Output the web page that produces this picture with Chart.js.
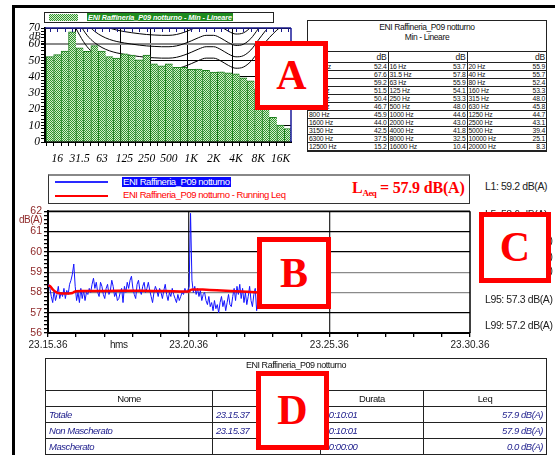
<!DOCTYPE html>
<html>
<head>
<meta charset="utf-8">
<script src="https://cdn.jsdelivr.net/npm/chart.js@4.4.1/dist/chart.umd.min.js"></script>
<style>
  body { margin:0; width:555px; height:455px; overflow:hidden; background:#fff; position:relative;
         font-family:"Liberation Sans", Arial, sans-serif; color:#111; }
  .abs { position:absolute; }
  #frame { left:12px; top:5px; width:543px; height:450px; border-left:3px solid #000; border-top:3px solid #000; box-sizing:border-box; }
  canvas { display:block; }
  .tA { border-collapse:collapse; table-layout:fixed; font-size:6.8px; letter-spacing:-0.2px; }
  .tA td { padding:0 1px; height:7px; line-height:7px; border-bottom:1px solid #222; white-space:nowrap; overflow:hidden; }
  .tA td.v { text-align:right; border-right:1px solid #222; }
  .tA td.v:last-child { border-right:none; }
  .tD { border-collapse:collapse; table-layout:fixed; font-size:9.5px; letter-spacing:-0.45px; width:501px; }
  .tD td { border:1px solid #222; padding:0 3px; white-space:nowrap; overflow:hidden; }
  .tD td.b { font-style:italic; color:#23238f; height:15px; }
  .stat { font-size:10.5px; letter-spacing:-0.4px; color:#222; white-space:nowrap; }
  .mark { box-sizing:border-box; border:5px solid #f00; background:#fff; color:#f00;
          font:bold 42px "Liberation Serif", "Times New Roman", serif; text-align:center; }
</style>
</head>
<body>
<div class="abs" id="frame"></div>

<!-- spectrum chart -->
<div class="abs" style="left:44px;top:12px;width:228px;height:9px;border:1px solid #222;"></div>
<div class="abs" id="swatch" style="left:49px;top:13.5px;width:29px;height:7px;"></div>
<div class="abs" style="left:87px;top:13px;height:8px;line-height:8px;padding:0 1px;background:#1e8a1e;color:#fff;font:italic bold 7.3px 'Liberation Sans',Arial,sans-serif;letter-spacing:-0.1px;white-space:nowrap;">ENI Raffineria_P09 notturno - Min - Lineare</div>
<div class="abs" style="left:0;top:0;width:300px;height:172px;"><canvas id="barChart" width="300" height="172"></canvas></div>
<div class="abs" style="left:29px;top:30px;font:italic 10.5px 'Liberation Serif',serif;">dB</div>

<!-- spectrum table -->
<div class="abs" id="tableA" style="left:307px;top:20px;width:238px;border:1px solid #222;background:#fff;">
  <div style="height:31px;text-align:center;font-size:8.5px;letter-spacing:-0.4px;line-height:10px;padding-top:1px;box-sizing:border-box;border-bottom:1px solid #222;">
    <div id="tATitle1"></div><div id="tATitle2"></div>
  </div>
  <table class="tA" id="tA" style="width:238px;"></table>
</div>

<!-- time history legend -->
<div class="abs" style="left:48px;top:174px;width:420px;height:27px;border:1px solid #333;border-top:2px solid #888;"></div>
<div class="abs" style="left:55px;top:181px;width:53px;height:1.5px;background:#2a2aff;"></div>
<div class="abs" id="legBlue" style="left:122px;top:176.5px;height:10px;line-height:10px;padding:0 1px;background:#0a0aff;color:#fff;font-size:9.5px;letter-spacing:-0.45px;white-space:nowrap;"></div>
<div class="abs" style="left:55px;top:195px;width:53px;height:1.8px;background:#f00;"></div>
<div class="abs" id="legRed" style="left:123px;top:190px;line-height:10px;color:#f00;font-size:9.5px;letter-spacing:-0.45px;white-space:nowrap;"></div>
<div class="abs" style="left:352px;top:179px;color:#f00;font:bold 16px 'Liberation Serif',serif;white-space:nowrap;letter-spacing:-0.2px;">L<span style="font-size:9px;position:relative;top:3px;letter-spacing:-0.6px;">Aeq</span> = <span id="laeq"></span> dB(A)</div>

<!-- time history chart -->
<div class="abs" style="left:0;top:203px;width:500px;height:152px;"><canvas id="timeChart" width="500" height="152"></canvas></div>
<div class="abs" style="left:19px;top:214px;font-size:10px;letter-spacing:-0.5px;color:#8f2a2a;">dB(A)</div>
<div class="abs" style="left:110px;top:339px;font-size:10px;letter-spacing:-0.5px;color:#222;">hms</div>

<div id="stats"></div>

<!-- summary table -->
<div class="abs" style="left:45px;top:358px;">
  <table class="tD" id="tD"></table>
</div>

<!-- labels -->
<div class="abs mark" style="left:255px;top:41px;width:73px;height:69px;line-height:59px;">A</div>
<div class="abs mark" style="left:257px;top:237px;width:74px;height:72px;line-height:62px;">B</div>
<div class="abs mark" style="left:479px;top:212px;width:72px;height:71px;line-height:61px;">C</div>
<div class="abs mark" style="left:256px;top:371px;width:73px;height:79px;line-height:69px;">D</div>

<script>
// ---- spectrum (third-octave, Min - Lineare) ----
const bandLabels = ['12.5','16','20','25','31.5','40','50','63','80','100','125','160','200','250','315','400',
  '500','630','800','1000','1250','1600','2000','2500','3150','4000','5000','6300','8000','10000','12500','16000','20000'];
const minLevels = [52.4,53.7,55.9,67.6,57.8,55.7,59.2,55.9,52.4,51.5,54.1,53.3,50.4,53.3,48.0,46.7,
  48.0,45.8,45.9,44.6,44.7,44.0,43.0,43.1,42.5,41.8,39.4,37.5,32.5,25.1,15.2,10.4,8.3];
const octaveIdx = [1,4,7,10,13,16,19,22,25,28,31];
const octaveText = ['16','31.5','63','125','250','500','1K','2K','4K','8K','16K'];
const specDbTicks = [0,10,20,30,40,50,60,70];
const specGridIdx = [4,10,14,19,25];
// reference contour curves drawn behind the spectrum (dB per band)
const contour1 = [111.5,101.5,91.5,81.5,72.5,65.5,61.0,58.0,56.0,54.7,53.8,53.1,52.5,52.0,51.7,51.5,51.5,52.0,53.3,55.1,57.1,58.5,58.5,56.7,54.0,52.3,53.0,56.5,62.5,68.5,73.5,77.5,79.5];
const contour2 = [118.5,108.5,98.5,88.5,79.5,72.5,68.0,65.0,63.0,61.7,60.8,60.1,59.5,59.0,58.7,58.5,58.5,59.0,60.3,62.1,64.1,65.5,65.5,63.7,61.0,59.3,60.0,63.5,69.5,75.5,80.5,84.5,86.5];
const contour3 = [125.5,115.5,105.5,95.5,86.5,79.5,75.0,72.0,70.0,68.7,67.8,67.1,66.5,66.0,65.7,65.5,65.5,66.0,67.3,69.1,71.1,72.5,72.5,70.7,68.0,66.3,67.0,70.5,76.5,82.5,87.5,91.5,93.5];
const contour4 = [104.5,94.5,84.5,74.5,65.5,58.5,54.0,51.0,49.0,47.7,46.8,46.1,45.5,45.0,44.7,44.5,44.5,45.0,46.3,48.1,50.1,51.5,51.5,49.7,47.0,45.3,46.0,49.5,55.5,61.5,66.5,70.5,72.5];

// ---- time history ----
const seriesName = 'ENI Raffineria_P09 notturno';
const blueStartSec = 1, blueStepSec = 3;
const blueLevels = [
  58.4,58.2,57.8,57.5,58.1,57.6,57.9,58.3,57.7,58.0,
  57.8,58.2,57.7,58.1,57.9,58.4,58.6,58.9,59.4,58.3,
  57.6,58.0,57.5,58.2,57.7,58.1,57.6,58.0,57.9,58.2,
  58.0,58.4,58.7,58.2,58.5,58.0,57.8,58.5,58.3,57.9,
  57.7,58.2,58.4,57.9,58.1,58.6,58.3,57.8,58.0,57.6,
  57.7,58.0,58.2,57.5,58.3,58.0,58.5,58.2,58.6,58.8,
  58.2,57.9,57.7,58.4,58.6,58.1,57.9,58.3,58.5,58.0,
  58.2,58.5,58.1,57.8,57.5,58.0,58.3,58.1,57.8,58.2,
  58.0,57.7,58.1,58.4,57.9,57.6,58.0,57.8,58.2,57.9,
  57.7,57.5,57.9,57.6,57.8,58.0,57.9,58.2,58.0,58.1,
  58.3,61.9,58.6,58.0,58.3,57.9,58.2,57.8,58.1,57.6,
  57.9,58.0,57.6,57.4,57.8,57.3,57.5,57.1,57.6,57.2,
  57.4,57.0,57.5,57.8,57.3,57.6,57.1,57.5,57.9,57.4,
  57.3,57.8,58.2,57.6,58.3,57.9,58.4,57.7,58.2,57.5,
  58.0,57.4,57.8,58.3,57.6,57.3,57.9,58.2,57.1,57.6,
  57.8,58.1,57.7,57.9,57.5,58.0,58.2,57.6,57.8,57.4,
  57.9,58.1,57.7,57.5,57.9,58.3,57.8,57.6,58.0,57.7,
  57.9,57.4,57.8,58.1,57.6,57.9,57.5,57.8,58.0,57.7,
  57.6,57.9,58.2,57.8,57.5,57.9,57.7,58.0,57.6,57.8,
  57.9,57.5,57.7,58.0,57.8,57.6,57.9,57.7,57.8,57.6,
  57.8];
const leqTimes  = [1,5,10,15,20,30,45,52,56,60,70,100,150,200,250,300,303,306,312,330,360,400,450,500,550,601];
const leqLevels = [58.35,58.3,58.15,58.05,57.98,57.95,57.95,57.97,58.03,58.06,58.07,58.07,58.08,58.08,58.07,58.05,
  58.1,58.14,58.15,58.14,58.11,58.06,58.0,57.96,57.92,57.9];
const laeq = 57.9;
const timeTickSecs = [0,60,120,180,240,300,360,420,480,540,600,660,720,780,840,900];
const timeLabelSecs = [0,300,600,900];
const timeLabelText = ['23.15.36','23.20.36','23.25.36','23.30.36'];
const dbaTicks = [56,57,58,59,60,61,62];
const dbaGridColor = ['#000','#000','#8a8a8a','#8a8a8a','#000','#000','#000'];

const statNames  = ['L1','L5','L10','L50','L90','L95','L99'];
const statValues = [59.2,58.6,58.4,57.9,57.5,57.3,57.2];

// ---- summary table ----
const sumHeaders = ['Nome','Inizio','Durata','Leq'];
const sumNames = ['Totale','Non Mascherato','Mascherato'];
const sumStart = ['23.15.37','23.15.37',''];
const sumDur   = ['00:10:01','00:10:01','00:00:00'];
const sumLeq   = [57.9,57.9,0.0];

// ---------------------------------------------------------------
const serif = "'Liberation Serif','Times New Roman',serif";
const sans = "'Liberation Sans',Arial,sans-serif";

// hatched green fill for the bars
const pc = document.createElement('canvas'); pc.width = 2; pc.height = 2;
const px = pc.getContext('2d');
px.fillStyle = '#d4eecb'; px.fillRect(0, 0, 2, 2);
px.fillStyle = '#2f942f'; px.fillRect(0, 0, 1, 1); px.fillRect(1, 1, 1, 1);
const hatch = px.createPattern(pc, 'repeat');
document.getElementById('swatch').style.background = 'repeating-conic-gradient(#2f942f 0 25%, #d4eecb 0 50%) 0 0/2px 2px';

// frame lines round the plot area (and optional tick row along the top)
const plotFrame = {
  id: 'plotFrame',
  afterDatasetsDraw(chart, args, opts) {
    const a = chart.chartArea, c = chart.ctx;
    c.save();
    c.lineWidth = opts.width || 1.5;
    c.strokeStyle = opts.top;
    c.beginPath(); c.moveTo(a.left, a.top); c.lineTo(a.right, a.top); c.stroke();
    if (opts.topTicks) {
      c.lineWidth = 1;
      chart.scales.x.ticks.forEach(t => {
        const x = Math.round(chart.scales.x.getPixelForValue(t.value)) + 0.5;
        c.beginPath(); c.moveTo(x, a.top); c.lineTo(x, a.top + 4); c.stroke();
      });
    }
    c.lineWidth = opts.width || 1.5;
    c.strokeStyle = opts.right;
    c.beginPath(); c.moveTo(a.right, a.top); c.lineTo(a.right, a.bottom); c.stroke();
    c.restore();
  }
};

const contours = [contour1, contour2, contour3, contour4];
new Chart(document.getElementById('barChart'), {
  type: 'bar',
  data: {
    datasets: [
      {
        type: 'bar', label: 'Min - Lineare',
        data: minLevels.map((v, i) => ({x: i, y: v})),
        backgroundColor: hatch, borderColor: '#1b7d1b',
        borderWidth: {top: 1, left: 1, right: 0, bottom: 0}, borderSkipped: false,
        barPercentage: 1, categoryPercentage: 1, order: 1
      },
      ...contours.map(c => ({
        type: 'line', data: c.map((v, i) => ({x: i, y: v})),
        borderColor: '#000', borderWidth: 1, pointRadius: 0,
        cubicInterpolationMode: 'monotone', order: 2
      }))
    ]
  },
  options: {
    responsive: false, animation: false, devicePixelRatio: 1,
    layout: {padding: {left: 0, top: 28, right: 9, bottom: 0}},
    plugins: {legend: {display: false}, tooltip: {enabled: false},
      plotFrame: {top: '#1a1a8a', right: '#1a1a9a', width: 1.5, topTicks: true}},
    scales: {
      x: {
        type: 'linear', min: -0.16, max: 31.9,
        afterBuildTicks: s => { s.ticks = bandLabels.map((b, i) => ({value: i})); },
        afterFit: s => { s.height = 30; },
        ticks: {autoSkip: false, maxRotation: 0, padding: 6, color: '#000',
          font: {family: serif, style: 'italic', size: 11.5},
          callback: v => { const k = octaveIdx.indexOf(v); return k < 0 ? '' : octaveText[k]; }},
        grid: {drawOnChartArea: true, tickLength: 4, tickColor: '#000',
          color: c => specGridIdx.includes(c.tick && c.tick.value) ? '#000' : 'rgba(0,0,0,0)'},
        border: {display: true, color: '#000', width: 2}
      },
      y: {
        min: 0, max: 70,
        afterBuildTicks: s => { const t = []; for (let v = 0; v <= 70; v += 2) t.push({value: v}); s.ticks = t; },
        afterFit: s => { s.width = 45; },
        ticks: {autoSkip: false, padding: 1, color: '#000',
          font: {family: serif, style: 'italic', size: 11.5},
          callback: v => specDbTicks.includes(v) ? String(v) : ''},
        grid: {tickLength: 4, tickColor: '#000',
          color: c => { const v = c.tick && c.tick.value; return v === 60 ? '#8a8a8a' : (specDbTicks.includes(v) ? '#000' : 'rgba(0,0,0,0)'); },
          lineWidth: c => (c.tick && c.tick.value === 60) ? 2 : 1},
        border: {display: true, color: '#000', width: 2}
      }
    }
  },
  plugins: [plotFrame]
});

// spectrum table
document.getElementById('tATitle1').textContent = seriesName;
document.getElementById('tATitle2').textContent = 'Min - Lineare';
let tA = '<colgroup><col style="width:38px"><col style="width:42px"><col style="width:38px"><col style="width:41px"><col style="width:38px"><col style="width:41px"></colgroup>';
tA += '<tr><td></td><td class="v" style="font-size:8.5px;height:10px">dB</td><td></td><td class="v" style="font-size:8.5px">dB</td><td></td><td class="v" style="font-size:8.5px">dB</td></tr>';
for (let r = 0; r < 11; r++) {
  tA += '<tr>';
  for (let c = 0; c < 3; c++) {
    const i = r * 3 + c;
    tA += '<td>' + bandLabels[i] + ' Hz</td><td class="v">' + minLevels[i].toFixed(1) + '</td>';
  }
  tA += '</tr>';
}
document.getElementById('tA').innerHTML = tA;

// time history legend
document.getElementById('legBlue').textContent = seriesName;
document.getElementById('legRed').textContent = seriesName + ' - Running Leq';
document.getElementById('laeq').textContent = laeq.toFixed(1);

new Chart(document.getElementById('timeChart'), {
  type: 'line',
  data: {
    datasets: [
      {label: seriesName, data: blueLevels.map((v, i) => ({x: blueStartSec + i * blueStepSec, y: v})),
        borderColor: '#1414ff', borderWidth: 1, pointRadius: 0, tension: 0, order: 2},
      {label: seriesName + ' - Running Leq', data: leqLevels.map((v, i) => ({x: leqTimes[i], y: v})),
        borderColor: '#ff0000', borderWidth: 2.5, pointRadius: 0, tension: 0.3, order: 1}
    ]
  },
  options: {
    responsive: false, animation: false, devicePixelRatio: 1,
    layout: {padding: {left: 0, top: 6, right: 30, bottom: 0}},
    plugins: {legend: {display: false}, tooltip: {enabled: false},
      plotFrame: {top: '#000', right: '#000', width: 1.5}},
    scales: {
      x: {
        type: 'linear', min: 0, max: 900,
        afterBuildTicks: s => { s.ticks = timeTickSecs.map(v => ({value: v})); },
        afterFit: s => { s.height = 22; },
        ticks: {autoSkip: false, maxRotation: 0, padding: 2, color: '#222',
          font: {family: sans, size: 10},
          callback: v => { const k = timeLabelSecs.indexOf(v); return k < 0 ? '' : timeLabelText[k]; }},
        grid: {tickLength: 4, tickColor: '#000',
          color: c => { const v = c.tick && c.tick.value; return (v === 300 || v === 600) ? '#333' : 'rgba(0,0,0,0)'; },
          lineWidth: 1.3},
        border: {display: true, color: '#000', width: 2}
      },
      y: {
        min: 56, max: 62,
        afterBuildTicks: s => { const t = []; for (let k = 0; k <= 30; k++) t.push({value: 56 + k / 5}); s.ticks = t; },
        afterFit: s => { s.width = 48; },
        ticks: {autoSkip: false, padding: 2, color: '#8f2a2a', font: {family: sans, size: 10.5},
          callback: v => { const k = dbaTicks.findIndex(d => Math.abs(d - v) < 1e-6); return k < 0 ? '' : String(dbaTicks[k]); }},
        grid: {tickLength: 4, tickColor: '#000', lineWidth: 1.3,
          color: c => { const v = c.tick ? c.tick.value : 0; const k = dbaTicks.findIndex(d => Math.abs(d - v) < 1e-6); return k < 0 ? 'rgba(0,0,0,0)' : dbaGridColor[k]; }},
        border: {display: true, color: '#000', width: 2}
      }
    }
  },
  plugins: [plotFrame]
});

// percentile levels
const statTops = [180, 208, 234, 250, 264, 293, 319];
document.getElementById('stats').innerHTML = statNames.map((n, i) =>
  '<div class="abs stat" style="left:485px;top:' + statTops[i] + 'px">' + n + ': ' + statValues[i].toFixed(1) + ' dB(A)</div>').join('');

// summary table
let tD = '<colgroup><col style="width:167px"><col style="width:108px"><col style="width:103px"><col style="width:123px"></colgroup>';
tD += '<tr><td colspan="4" style="height:30px;vertical-align:top;text-align:center;font-size:9px;padding-top:1px">' + seriesName + '</td></tr>';
tD += '<tr>' + sumHeaders.map(h => '<td style="height:15px;text-align:center">' + h + '</td>').join('') + '</tr>';
for (let r = 0; r < sumNames.length; r++) {
  tD += '<tr><td class="b">' + sumNames[r] + '</td><td class="b">' + sumStart[r] + '</td><td class="b">' + sumDur[r] +
        '</td><td class="b" style="text-align:right">' + sumLeq[r].toFixed(1) + ' dB(A)</td></tr>';
}
document.getElementById('tD').innerHTML = tD;
</script>
</body>
</html>
